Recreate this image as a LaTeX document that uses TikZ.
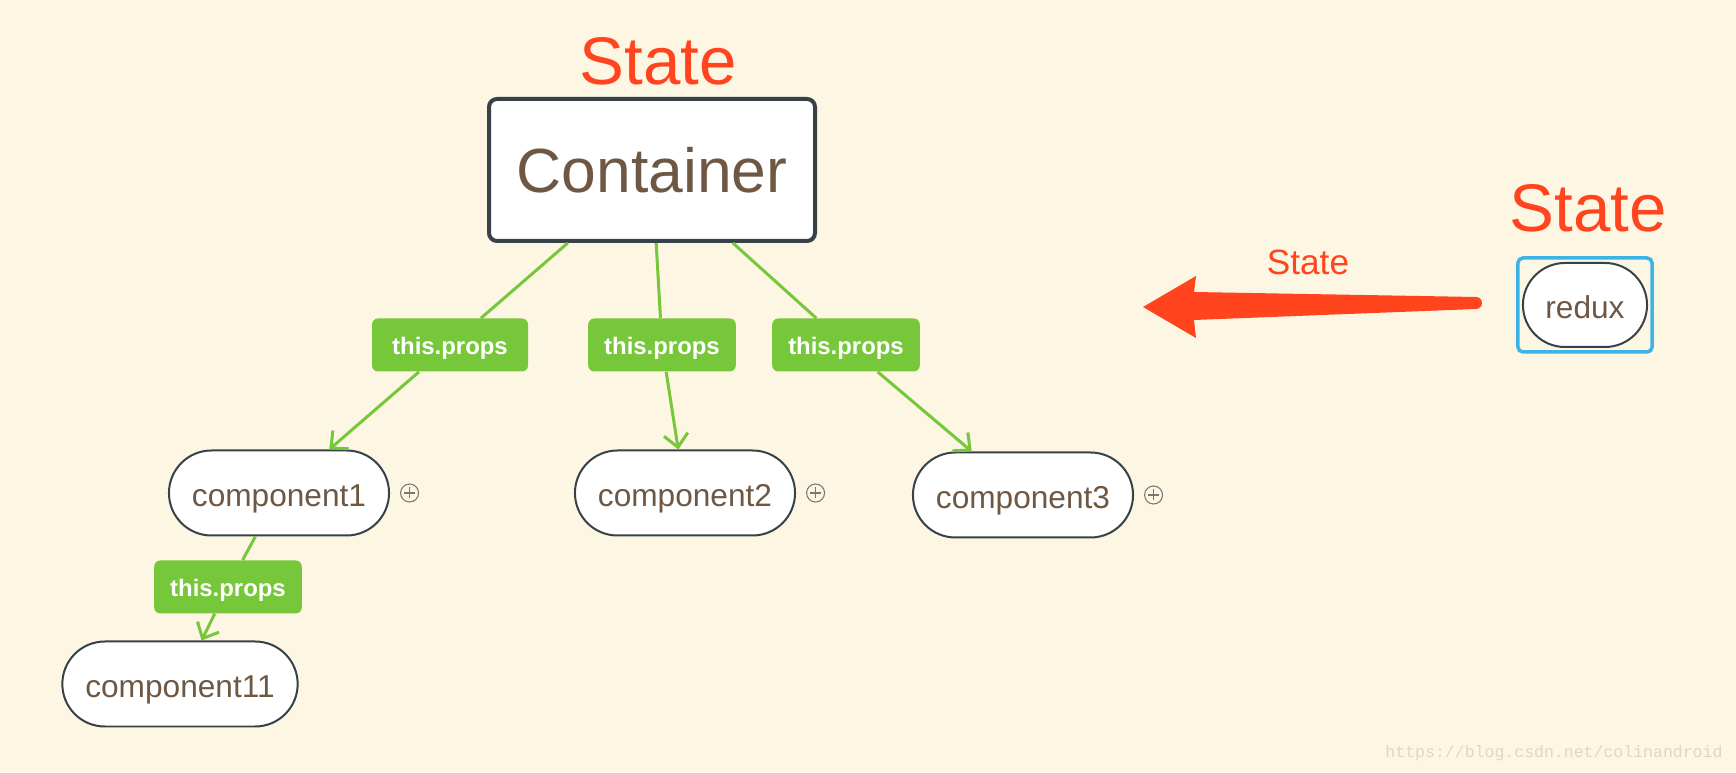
\documentclass[tikz,border=0pt]{standalone}
\usepackage{fontspec}
\setmainfont{Liberation Sans}
\setmonofont{Liberation Mono}
\usetikzlibrary{arrows.meta,positioning}
\definecolor{paper}{RGB}{253,246,227}
\definecolor{statered}{RGB}{255,68,30}
\definecolor{propgreen}{RGB}{118,200,58}
\definecolor{textbrown}{RGB}{110,88,68}
\definecolor{boxgray}{RGB}{55,65,72}
\definecolor{plusgray}{RGB}{120,120,115}
\definecolor{reduxblue}{RGB}{60,180,230}
\definecolor{watermark}{RGB}{224,214,195}

\tikzset{
    component/.style={draw=boxgray, line width=0.04cm, fill=white, text=textbrown,
        minimum height=1.7cm, rounded corners=0.85cm, inner xsep=0.46cm,
        text height=15.3pt, text depth=0pt,
        font=\fontsize{18}{22}\selectfont},
    propslabel/.style={fill=propgreen, text=white, rounded corners=0.12cm,
        minimum height=1.06cm, inner xsep=0.32cm,
        text height=10.7pt, text depth=0pt,
        font=\bfseries\fontsize{13.6}{16}\selectfont},
    propline/.style={draw=propgreen, line width=0.06cm},
    statetext/.style={text=statered, inner sep=0pt},
    expander/.style={circle, draw=plusgray, line width=0.6pt, minimum size=0.36cm, inner sep=0pt,
        path picture={\draw[plusgray, line width=0.6pt]
            ([xshift=-1.1mm]path picture bounding box.center) -- ([xshift=1.1mm]path picture bounding box.center)
            ([yshift=-1.1mm]path picture bounding box.center) -- ([yshift=1.1mm]path picture bounding box.center);}}
}

\begin{document}
\begin{tikzpicture}
        % Hintergrund
        \fill[paper] (0,0) rectangle (34.72,15.44);

        % Container
        \node[draw=boxgray, line width=0.08cm, rounded corners=0.16cm, fill=white,
              minimum width=6.52cm, minimum height=2.84cm, text=textbrown,
              font=\fontsize{35.5}{40}\selectfont] (container) at (13.04,12.04) {Container};
        \node[statetext, font=\fontsize{38.3}{44}\selectfont] (stateTop) at (13.16,14.21) {State};

        % Komponenten
        \node[component] (comp1) at (5.58,5.58) {component1};
        \node[component] (comp2) at (13.70,5.58) {component2};
        \node[component] (comp3) at (20.46,5.54) {component3};
        \node[component] (comp11) at (3.60,1.76) {component11};
        \node[expander, right=0.2cm of comp1] (plus1) {};
        \node[expander, right=0.2cm of comp2] (plus2) {};
        \node[expander, right=0.2cm of comp3] (plus3) {};

        % this.props
        \node[propslabel, minimum width=3.12cm] (props1) at (9.00,8.54) {this.props};
        \node[propslabel] (props2) at (13.24,8.54) {this.props};
        \node[propslabel] (props3) at (16.92,8.54) {this.props};
        \node[propslabel] (props11) at (4.56,3.70) {this.props};

        % Verbindungen
        \draw[propline] (container) -- (props1);
        \draw[propline] (container) -- (props2);
        \draw[propline] (container) -- (props3);
        \draw[propline] (comp1) -- (props11);
        \draw[propline, -{Straight Barb[length=2.6mm,width=4.8mm]}] (props1) -- (comp1);
        \draw[propline, -{Straight Barb[length=2.6mm,width=4.8mm]}] (props2) -- (comp2);
        \draw[propline, -{Straight Barb[length=2.6mm,width=4.8mm]}] (props3) -- (comp3);
        \draw[propline, -{Straight Barb[length=2.6mm,width=4.8mm]}] (props11) -- (comp11);

        % redux
        \node[component, minimum height=1.68cm, rounded corners=0.84cm, inner xsep=0.45cm] (redux) at (31.70,9.34) {redux};
        \draw[reduxblue, line width=0.07cm, rounded corners=0.1cm]
            ([shift={(-0.08,-0.08)}]redux.south west) rectangle ([shift={(0.08,0.08)}]redux.north east);
        \node[statetext, font=\fontsize{38.3}{44}\selectfont] (stateRight) at (31.76,11.28) {State};

        % roter Pfeil
        \coordinate (stateTail) at (29.52,9.38);
        \coordinate (stateTip) at (22.86,9.30);
        \fill[statered] (stateTip) -- ++(1.06,0.62) -- ++(-0.04,-0.32)
            -- ([yshift=0.12cm]stateTail) arc[start angle=90, end angle=-90, radius=0.12cm]
            -- (23.88,9.04) -- ++(0.04,-0.36) -- cycle;
        \node[statetext, font=\fontsize{20}{24}\selectfont] (stateArrow) at (26.16,10.20) {State};

        % Quelle
        \node[text=watermark, font=\ttfamily\fontsize{9.4}{11}\selectfont] (quelle) at (31.08,0.38) {https://blog.csdn.net/colinandroid};
\end{tikzpicture}
\end{document}
